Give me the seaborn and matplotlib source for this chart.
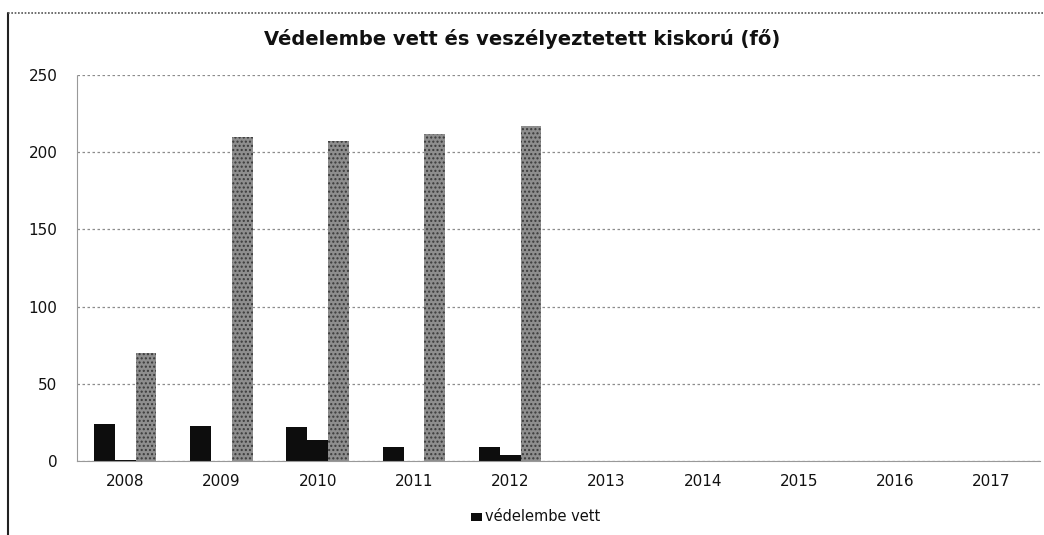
import matplotlib
matplotlib.use("Agg")
import matplotlib.pyplot as plt
import seaborn as sns
import pandas as pd
from matplotlib.patches import Rectangle

# --- Data ---
YEARS = ["2008", "2009", "2010", "2011", "2012", "2013", "2014", "2015", "2016", "2017"]
VEDELEMBE = [24, 23, 22, 9, 9, 0, 0, 0, 0, 0]
MASODIK = [1, 0, 14, 0, 4, 0, 0, 0, 0, 0]
VESZELYEZTETETT = [70, 210, 207, 212, 217, 0, 0, 0, 0, 0]
SERIES = ["védelembe vett", "védelembe vett (2)", "veszélyeztetett"]
Y_TICKS = [0, 50, 100, 150, 200, 250]
TITLE = "Védelembe vett és veszélyeztetett kiskorú (fő)"

COLOR_DARK = "#0d0d0d"
COLOR_GREY = "#8e8e8e"
COLOR_GRID = "#8c8c8c"
COLOR_TEXT = "#111111"

sns.set_style("white")
plt.rcParams['font.family'] = ['DejaVu Sans']
plt.rcParams['text.color'] = COLOR_TEXT
plt.rcParams['xtick.color'] = COLOR_TEXT
plt.rcParams['ytick.color'] = COLOR_TEXT

df = pd.DataFrame({
    "year": YEARS * 3,
    "value": VEDELEMBE + MASODIK + VESZELYEZTETETT,
    "series": [SERIES[0]] * 10 + [SERIES[1]] * 10 + [SERIES[2]] * 10,
})

fig = plt.figure(figsize=(10.44, 5.35), dpi=100)
ax = fig.add_axes([0.0738, 0.138, 0.922, 0.722])

sns.barplot(data=df, x="year", y="value", hue="series", order=YEARS,
            hue_order=SERIES, palette=[COLOR_DARK, COLOR_DARK, COLOR_GREY],
            width=0.65, saturation=1, legend=False, linewidth=0, ax=ax)

# grey bars get a stippled look like the scanned original
for bar in ax.patches[20:30]:
    bar.set_hatch("....")
    bar.set_edgecolor("#3a3a3a")
    bar.set_linewidth(0)

ax.set_ylim(0, 250)
ax.set_yticks(Y_TICKS)
ax.set_xlim(-0.5, 9.5)
ax.set_xlabel("")
ax.set_ylabel("")
ax.tick_params(axis="y", length=0, pad=14, labelsize=11, labelcolor=COLOR_TEXT)
ax.tick_params(axis="x", length=0, pad=9, labelsize=11, labelcolor=COLOR_TEXT)
ax.yaxis.grid(True, color=COLOR_GRID, linestyle=(0, (2, 2)), linewidth=0.9)
ax.set_axisbelow(True)
for side in ["top", "right"]:
    ax.spines[side].set_visible(False)
ax.spines["left"].set_color("#999999")
ax.spines["bottom"].set_color("#999999")
ax.spines["left"].set_linestyle((0, (2, 1)))

fig.text(0.5, 0.928, TITLE, ha="center", va="center", fontsize=14, weight="bold",
         color=COLOR_TEXT)

# legend shows only the first series, like the original
fig.patches.append(Rectangle((0.451, 0.026), 0.011, 0.016, transform=fig.transFigure,
                             facecolor=COLOR_DARK, edgecolor="none"))
fig.text(0.465, 0.034, "védelembe vett", ha="left", va="center", fontsize=10.5,
         color=COLOR_TEXT)

# outer frame: left solid, top dotted
fig.add_artist(plt.Line2D([0.008, 0.008], [0.0, 0.975], color="#222222", linewidth=1.5,
                          transform=fig.transFigure))
fig.add_artist(plt.Line2D([0.008, 1.0], [0.975, 0.975], color="#555555", linewidth=1.2,
                          linestyle=(0, (1, 1)), transform=fig.transFigure))

plt.savefig("out.png", dpi=100)
plt.close()
